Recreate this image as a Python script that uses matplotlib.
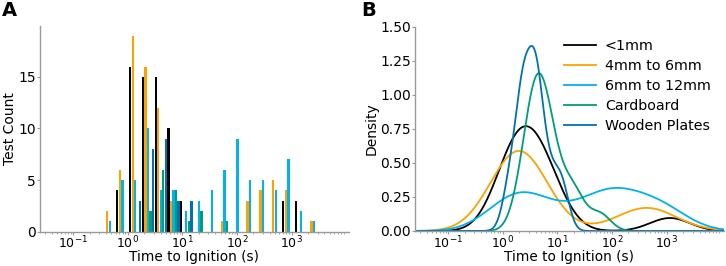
import numpy as np
from matplotlib import pyplot as plt

# histogram bins (log10 of seconds)
bin_start = -0.45
bin_width = 0.234
n_bins = 17

labels = ['<1mm', '4mm to 6mm', '6mm to 12mm', 'Cardboard', 'Wooden Plates']
colors = ['#000000', '#FFA200', '#00B2EE', '#009E73', '#0072B2']

# test counts per bin, one list per fuel class
count_lt1mm = [0, 4, 16, 15, 15, 10, 3, 0, 0, 0, 0, 0, 0, 0, 3, 3, 0]
count_4to6 = [2, 6, 19, 16, 12, 3, 0, 0, 0, 1, 0, 3, 4, 5, 4, 0, 1]
count_6to12 = [1, 5, 5, 10, 4, 4, 2, 3, 4, 6, 9, 5, 5, 4, 7, 2, 1]
count_cardboard = [0, 0, 0, 2, 6, 4, 1, 2, 0, 1, 0, 0, 0, 0, 0, 0, 0]
count_wooden = [0, 0, 3, 8, 9, 3, 3, 0, 0, 0, 0, 0, 0, 0, 0, 0, 0]
counts = [count_lt1mm, count_4to6, count_6to12, count_cardboard, count_wooden]

# kde bandwidth tweak per class
bw_adjust = [1.0, 1.0, 1.0, 0.92, 0.95]

xlim = (10 ** -1.61, 10 ** 4.05)


def style_axis(ax):
    for s in ['top', 'right']:
        ax.spines[s].set_visible(False)
    for s in ['left', 'bottom']:
        ax.spines[s].set_color('#999999')
        ax.spines[s].set_linewidth(1.0)
    ax.tick_params(which='major', length=2, width=0.8, color='#999999', labelsize=10, pad=1)
    ax.tick_params(which='minor', length=1.5, width=0.6, color='#999999')
    ax.tick_params(axis='x', labelsize=9, pad=0.5)
    ax.set_xscale('log')
    ax.set_xlim(*xlim)


def kde(samples, grid, adjust=1.0):
    samples = np.asarray(samples, dtype=float)
    bw = samples.std(ddof=1) * len(samples) ** (-1 / 5) * adjust
    d = (grid[:, None] - samples[None, :]) / bw
    return np.exp(-0.5 * d ** 2).sum(axis=1) / (len(samples) * bw * np.sqrt(2 * np.pi))


fig = plt.figure(figsize=(7.26, 2.66), dpi=100)
axA = fig.add_axes([0.055, 0.129, 0.4256, 0.774])
axB = fig.add_axes([0.5716, 0.1316, 0.4256, 0.767])

# A: dodged histogram on log bins
sub = bin_width / len(labels)
for j, (c, col) in enumerate(zip(counts, colors)):
    for k, h in enumerate(c):
        if h == 0:
            continue
        lo = bin_start + k * bin_width + j * sub + 0.06 * sub
        hi = lo + 0.88 * sub
        axA.bar(10 ** lo, h, width=10 ** hi - 10 ** lo, align='edge', color=col, linewidth=0)
style_axis(axA)
axA.set_ylim(0, 19.95)
axA.set_yticks([0, 5, 10, 15])
axA.set_xticks([0.1, 1, 10, 100, 1000])
axA.set_xlabel('Time to Ignition (s)', fontsize=9.8)
axA.xaxis.set_label_coords(0.5, -0.09)
axA.set_ylabel('Test Count', fontsize=10, labelpad=1)

# B: density of log10 ignition time, each class normalised on its own
centers = bin_start + (np.arange(n_bins) + 0.5) * bin_width
grid = np.linspace(np.log10(xlim[0]), np.log10(xlim[1]), 600)
for lab, c, col, adj in zip(labels, counts, colors, bw_adjust):
    samples = np.repeat(centers, c)
    axB.plot(10 ** grid, kde(samples, grid, adj), color=col, lw=1.3, label=lab)
style_axis(axB)
axB.set_ylim(0, 1.5)
axB.set_yticks(np.arange(0, 1.51, 0.25))
axB.yaxis.set_major_formatter(plt.FormatStrFormatter('%.2f'))
axB.set_xticks([0.1, 1, 10, 100, 1000])
axB.set_xlabel('Time to Ignition (s)', fontsize=9.8)
axB.xaxis.set_label_coords(0.5, -0.091)
axB.set_ylabel('Density', fontsize=10, labelpad=1)
axB.legend(frameon=False, fontsize=10.3, loc='upper right', bbox_to_anchor=(0.985, 0.985),
           handlelength=2.2, handletextpad=0.65, labelspacing=0.42, borderaxespad=0.2)

fig.text(0.003, 0.995, 'A', fontsize=14, fontweight='bold', va='top', ha='left')
fig.text(0.497, 0.995, 'B', fontsize=14, fontweight='bold', va='top', ha='left')

fig.savefig('out.png', dpi=100)
